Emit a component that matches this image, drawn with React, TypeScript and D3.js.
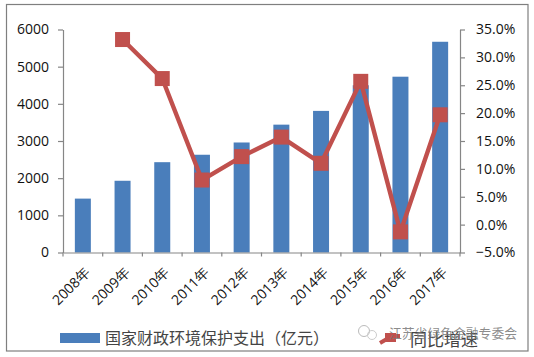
import React, { useEffect, useRef } from "react";
import * as d3 from "d3";

const years = ["2008年","2009年","2010年","2011年","2012年","2013年","2014年","2015年","2016年","2017年"];
const spending = [1450,1930,2430,2630,2960,3440,3810,4500,4730,5670];
const growth: (number|null)[] = [null,33.2,26.2,8.0,12.2,15.7,11.0,25.7,-1.3,19.7];
const leftTicks = [0,1000,2000,3000,4000,5000,6000];
const rightTicks = [-5,0,5,10,15,20,25,30,35];
const barName = "国家财政环境保护支出（亿元）";
const lineName = "同比增速";
const watermark = "江苏省绿色金融专委会";

const W = 534, H = 357;
const L = 63, R = 460, T = 29.5, B = 252.5;
const sans = "'Open Sans','Noto Sans',sans-serif";
const serif = "'Noto Sans CJK SC','Liberation Serif',serif";

export default function App() {
  const ref = useRef<SVGSVGElement>(null);
  useEffect(() => {
    const svg = d3.select(ref.current!);
    svg.selectAll("*").remove();
    svg.append("rect").attr("x",6.5).attr("y",4.5).attr("width",521.5).attr("height",346.5)
      .attr("fill","#fff").attr("stroke","#7f7f7f").attr("stroke-width",1.2);

    const x = d3.scaleBand<string>().domain(years).range([L,R]);
    const yL = d3.scaleLinear().domain([0,6000]).range([B,T]);
    const yR = d3.scaleLinear().domain([-5,35]).range([B,T]);
    const cx = (y:string)=> x(y)! + x.bandwidth()/2;

    svg.append("g").selectAll("rect").data(spending).join("rect")
      .attr("x",(_,i)=>cx(years[i])-8).attr("width",16)
      .attr("y",d=>yL(d)).attr("height",d=>B-yL(d)).attr("fill","#4a7ebb");

    const axisStyle = (g:any)=>{
      g.selectAll("path,line").attr("stroke","#868686").attr("stroke-width",1.2);
      g.selectAll("text").attr("fill","#111").attr("font-family",sans).attr("font-size",14);
    };
    svg.append("g").attr("transform",`translate(${L},0)`)
      .call(d3.axisLeft(yL).tickValues(leftTicks).tickFormat(d3.format("d") as any).tickSize(5).tickSizeOuter(0).tickPadding(9))
      .call(axisStyle);
    svg.append("g").attr("transform",`translate(${R},0)`)
      .call(d3.axisRight(yR).tickValues(rightTicks).tickFormat((d:any)=>d3.format(".1f")(d)+"%").tickSize(5).tickSizeOuter(0).tickPadding(11))
      .call(axisStyle);
    const gx = svg.append("g").attr("transform",`translate(0,${B})`)
      .call(d3.axisBottom(x).tickValues([]).tickSizeOuter(0))
      .call(axisStyle);
    const tickXs = d3.range(years.length+1).map(i=>L+i*x.step());
    gx.selectAll("line.t").data(tickXs).join("line").attr("class","t")
      .attr("x1",d=>d).attr("x2",d=>d).attr("y1",0).attr("y2",4).attr("stroke","#868686").attr("stroke-width",1.2);
    svg.append("g").selectAll("text").data(years).join("text")
      .text(d=>d).attr("text-anchor","end").attr("fill","#111").attr("font-family",sans).attr("font-size",14)
      .attr("transform",d=>`translate(${cx(d)+1},${B+14}) rotate(-45)`).attr("dy","0.7em");

    const pts = years.map((y,i)=>({y,v:growth[i]})).filter(d=>d.v!==null) as {y:string,v:number}[];
    const line = d3.line<{y:string,v:number}>().x(d=>cx(d.y)).y(d=>yR(d.v));
    svg.append("path").attr("d",line(pts)!).attr("fill","none").attr("stroke","#c0504d").attr("stroke-width",4.4).attr("stroke-linejoin","round");
    svg.append("g").selectAll("rect").data(pts).join("rect")
      .attr("x",d=>cx(d.y)-7.5).attr("y",d=>yR(d.v)-7.5).attr("width",15).attr("height",15).attr("fill","#c0504d");

    // legend
    svg.append("rect").attr("x",60).attr("y",333).attr("width",40).attr("height",10).attr("fill","#4a7ebb");
    svg.append("text").text(barName).attr("x",105).attr("y",344).attr("font-family",serif).attr("font-size",16).attr("fill","#444");
    svg.append("path").attr("d",d3.line()([[380,343],[392,336],[400,336]])!).attr("fill","none").attr("stroke","#c0504d").attr("stroke-width",4);
    svg.append("rect").attr("x",385).attr("y",333).attr("width",11).attr("height",9).attr("fill","#c0504d");
    svg.append("text").text(lineName).attr("x",410).attr("y",346).attr("font-family",serif).attr("font-size",17).attr("fill","#444");

    // watermark
    svg.append("circle").attr("cx",364).attr("cy",331).attr("r",5.5).attr("fill","none").attr("stroke","#bbb").attr("stroke-width",1);
    svg.append("circle").attr("cx",372).attr("cy",335).attr("r",4.5).attr("fill","none").attr("stroke","#ccc").attr("stroke-width",1);
    svg.append("text").text(watermark).attr("x",389).attr("y",338).attr("font-family","'Noto Sans CJK SC',sans-serif").attr("font-size",12.8).attr("fill","#777").attr("fill-opacity",0.85);
  },[]);
  return <svg ref={ref} width={W} height={H} style={{position:"fixed",left:0,top:0,display:"block"}} />;
}
